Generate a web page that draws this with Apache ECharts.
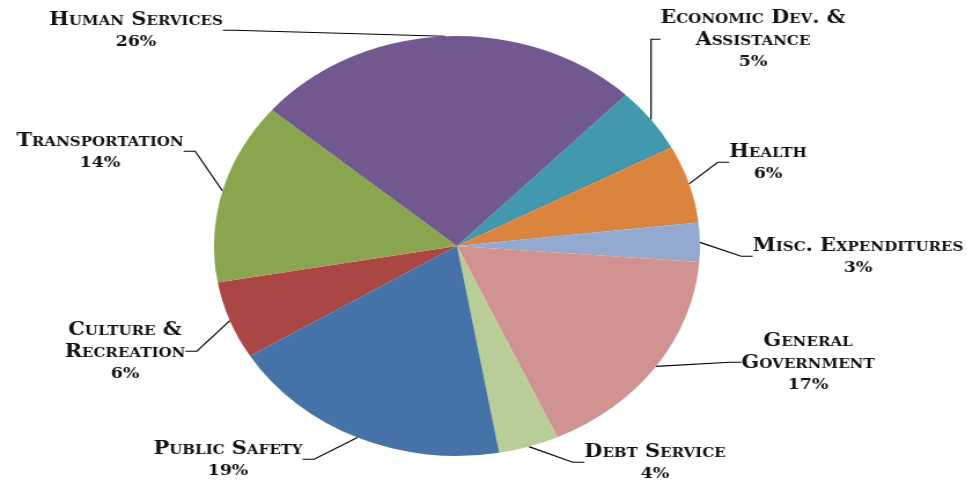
<!DOCTYPE html>
<html>
<head>
<meta charset="utf-8">
<script src="https://cdn.jsdelivr.net/npm/echarts@6/dist/echarts.min.js"></script>
<style>
  html, body { margin: 0; padding: 0; background: #fff; overflow: hidden; }
  /* the original pie is drawn a little wider than tall */
  #chart { width: 836px; height: 485px; transform: scaleX(1.157); transform-origin: 0 0; }
</style>
</head>
<body>
<div id="chart"></div>
<script>
const stretch = 1.157;

// categories, clockwise from the top-right
const categories = [
  "Economic Dev. &\nAssistance",
  "Health",
  "Misc. Expenditures",
  "General\nGovernment",
  "Debt Service",
  "Public Safety",
  "Culture &\nRecreation",
  "Transportation",
  "Human Services"
];
const shares = [5, 6, 3, 17, 4, 19, 6, 14, 26];
const colors = ["#4198af", "#db843d", "#93a9cf", "#d19392", "#b9cd96",
                "#4572a7", "#aa4643", "#89a54e", "#71588f"];
// where each label sits on the page (centre of the text block)
const labelAt = [
  [753, 40], [768, 163], [858, 257], [808, 363], [655, 463],
  [228, 460], [125, 352], [100, 152], [136, 31]
];

const chart = echarts.init(document.getElementById("chart"));

chart.setOption({
  animation: false,
  series: [{
    type: "pie",
    center: [457 / stretch, 246],
    radius: 210,
    startAngle: 46,
    clockwise: true,
    data: categories.map((name, i) => ({
      name: name,
      value: shares[i],
      itemStyle: { color: colors[i] }
    })),
    label: {
      show: true,
      position: "outside",
      formatter: p => p.name.split("\n").map(s => "{n|" + s + "}").join("\n") +
        "\n{p|" + p.value + "%}",
      color: "#111",
      align: "center",
      rich: {
        n: {
          fontFamily: "DejaVu Serif",
          fontStyle: "small-caps",
          fontWeight: "bold",
          fontSize: 18,
          lineHeight: 22,
          color: "#111",
          align: "center"
        },
        p: {
          fontFamily: "DejaVu Serif",
          fontWeight: "bold",
          fontSize: 15,
          lineHeight: 22,
          color: "#111",
          align: "center"
        }
      }
    },
    labelLine: {
      show: true,
      length: 20,
      length2: 10,
      lineStyle: { color: "#000", width: 1.2 }
    },
    labelLayout: params => ({
      x: labelAt[params.dataIndex][0] / stretch,
      y: labelAt[params.dataIndex][1],
      align: "center",
      verticalAlign: "middle"
    }),
    emphasis: { disabled: true }
  }]
});
</script>
</body>
</html>
